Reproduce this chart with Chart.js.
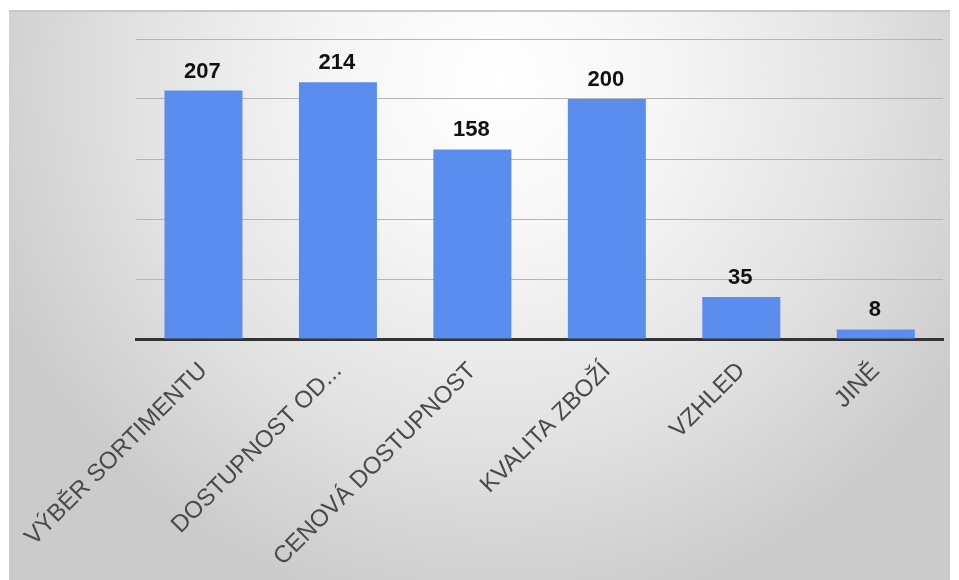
<!DOCTYPE html>
<html>
<head>
<meta charset="utf-8">
<script src="https://cdn.jsdelivr.net/npm/chart.js@4"></script>
<style>
  html, body { margin: 0; padding: 0; background: #fff; }
  #wrap { position: relative; width: 959px; height: 580px; overflow: hidden; }
  #panel {
    position: absolute; left: 9px; top: 10px; width: 941px; height: 570px;
    border-top: 2px solid #c9c9c9;
    background: radial-gradient(ellipse 58% 95% at 52% 12%, #ffffff 0%, #f6f6f6 30%, #e3e3e3 65%, #cbcbcb 100%);
  }
  #chart1 { position: absolute; left: 0; top: 0; }
</style>
</head>
<body>
<div id="wrap">
  <div id="panel"></div>
  <canvas id="chart1" width="959" height="580"></canvas>
</div>
<script>
// data
const categories = ['VÝBĚR SORTIMENTU', 'DOSTUPNOST OD...', 'CENOVÁ DOSTUPNOST', 'KVALITA ZBOŽÍ', 'VZHLED', 'JINĚ'];
const responses = [207, 214, 158, 200, 35, 8];
const yMin = 0;
const yMax = 250;
const yStep = 50;

const FONT = "'Liberation Sans', Arial, sans-serif";

// numbers above the bars
const valueLabels = {
  id: 'valueLabels',
  afterDatasetsDraw(chart) {
    const c = chart.ctx;
    const meta = chart.getDatasetMeta(0);
    c.save();
    c.font = 'bold 22px ' + FONT;
    c.fillStyle = '#111';
    c.textAlign = 'center';
    c.textBaseline = 'alphabetic';
    meta.data.forEach((bar, i) => {
      c.fillText(String(responses[i]), bar.x - 1, bar.y - 13);
    });
    c.restore();
  }
};

const ctx = document.getElementById('chart1');
new Chart(ctx, {
  type: 'bar',
  data: {
    labels: categories,
    datasets: [{
      data: responses,
      backgroundColor: '#5a8ded',
      borderWidth: 0,
      barPercentage: 0.58,
      categoryPercentage: 1.0
    }]
  },
  options: {
    responsive: false,
    animation: false,
    layout: { padding: { left: 136, right: 16, top: 39, bottom: 0 } },
    plugins: {
      legend: { display: false },
      tooltip: { enabled: false }
    },
    scales: {
      x: {
        grid: { display: false, drawTicks: false },
        border: { display: true, color: '#333', width: 3 },
        ticks: {
          color: '#4a4a4a',
          font: { family: FONT, size: 24 },
          minRotation: 45,
          maxRotation: 45,
          autoSkip: false,
          padding: 18
        },
        afterFit(axis) { axis.height = 241; }
      },
      y: {
        min: yMin,
        max: yMax,
        ticks: { display: false, stepSize: yStep },
        grid: { color: '#b5b5b5', lineWidth: 1, drawTicks: false },
        border: { display: false },
        afterFit(axis) { axis.width = 0; }
      }
    }
  },
  plugins: [valueLabels]
});
</script>
</body>
</html>
